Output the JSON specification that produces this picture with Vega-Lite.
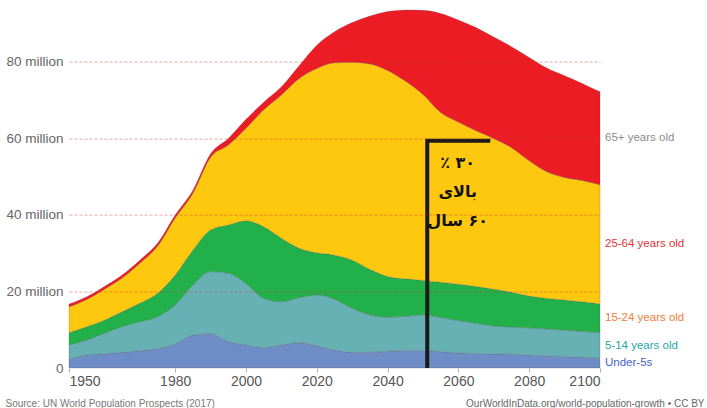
{
  "$schema": "https://vega.github.io/schema/vega-lite/v6.json",
  "width": 531,
  "height": 363.4,
  "autosize": {"type": "none"},
  "padding": {"left": 69, "top": 4.6, "right": 107, "bottom": 40},
  "config": {"font": "Liberation Sans", "view": {"stroke": null}},
  "datasets": {
    "groups": [
      {"age": "Under-5s", "rank": 1},
      {"age": "5-14 years old", "rank": 2},
      {"age": "15-24 years old", "rank": 3},
      {"age": "25-64 years old", "rank": 4},
      {"age": "65+ years old", "rank": 5}
    ],
    "pop": [
      {"year": 1950, "Under-5s": 2.3, "5-14 years old": 3.7, "15-24 years old": 3.2, "25-64 years old": 6.8, "65+ years old": 0.7},
      {"year": 1955, "Under-5s": 3.4, "5-14 years old": 3.9, "15-24 years old": 3.5, "25-64 years old": 7.1, "65+ years old": 0.7},
      {"year": 1960, "Under-5s": 3.7, "5-14 years old": 5.4, "15-24 years old": 3.4, "25-64 years old": 8.1, "65+ years old": 0.7},
      {"year": 1965, "Under-5s": 4.1, "5-14 years old": 6.7, "15-24 years old": 3.9, "25-64 years old": 8.8, "65+ years old": 0.8},
      {"year": 1970, "Under-5s": 4.5, "5-14 years old": 7.6, "15-24 years old": 4.8, "25-64 years old": 10.5, "65+ years old": 0.8},
      {"year": 1975, "Under-5s": 5.0, "5-14 years old": 8.4, "15-24 years old": 6.1, "25-64 years old": 12.3, "65+ years old": 0.8},
      {"year": 1980, "Under-5s": 6.3, "5-14 years old": 10.2, "15-24 years old": 7.8, "25-64 years old": 14.9, "65+ years old": 0.8},
      {"year": 1985, "Under-5s": 8.6, "5-14 years old": 13.1, "15-24 years old": 9.1, "25-64 years old": 14.9, "65+ years old": 0.8},
      {"year": 1990, "Under-5s": 8.9, "5-14 years old": 16.3, "15-24 years old": 10.9, "25-64 years old": 19.0, "65+ years old": 0.9},
      {"year": 1995, "Under-5s": 6.9, "5-14 years old": 17.9, "15-24 years old": 12.6, "25-64 years old": 20.9, "65+ years old": 1.7},
      {"year": 2000, "Under-5s": 6.0, "5-14 years old": 16.1, "15-24 years old": 16.4, "25-64 years old": 24.2, "65+ years old": 2.3},
      {"year": 2005, "Under-5s": 5.3, "5-14 years old": 12.9, "15-24 years old": 18.7, "25-64 years old": 30.6, "65+ years old": 2.0},
      {"year": 2010, "Under-5s": 6.0, "5-14 years old": 11.3, "15-24 years old": 16.6, "25-64 years old": 37.5, "65+ years old": 2.1},
      {"year": 2015, "Under-5s": 6.6, "5-14 years old": 11.8, "15-24 years old": 12.9, "25-64 years old": 44.4, "65+ years old": 3.3},
      {"year": 2020, "Under-5s": 5.8, "5-14 years old": 13.3, "15-24 years old": 11.0, "25-64 years old": 48.2, "65+ years old": 6.1},
      {"year": 2025, "Under-5s": 4.7, "5-14 years old": 13.3, "15-24 years old": 11.5, "25-64 years old": 50.3, "65+ years old": 8.1},
      {"year": 2030, "Under-5s": 4.1, "5-14 years old": 11.5, "15-24 years old": 12.6, "25-64 years old": 51.7, "65+ years old": 10.4},
      {"year": 2035, "Under-5s": 4.1, "5-14 years old": 9.8, "15-24 years old": 11.9, "25-64 years old": 53.7, "65+ years old": 12.5},
      {"year": 2040, "Under-5s": 4.4, "5-14 years old": 8.9, "15-24 years old": 10.6, "25-64 years old": 53.9, "65+ years old": 15.4},
      {"year": 2045, "Under-5s": 4.6, "5-14 years old": 8.9, "15-24 years old": 9.8, "25-64 years old": 51.7, "65+ years old": 18.6},
      {"year": 2050, "Under-5s": 4.6, "5-14 years old": 9.3, "15-24 years old": 9.0, "25-64 years old": 48.6, "65+ years old": 22.0},
      {"year": 2055, "Under-5s": 4.3, "5-14 years old": 8.9, "15-24 years old": 9.2, "25-64 years old": 44.4, "65+ years old": 25.9},
      {"year": 2060, "Under-5s": 3.9, "5-14 years old": 8.5, "15-24 years old": 9.5, "25-64 years old": 42.4, "65+ years old": 26.7},
      {"year": 2065, "Under-5s": 3.8, "5-14 years old": 7.9, "15-24 years old": 9.6, "25-64 years old": 40.7, "65+ years old": 27.0},
      {"year": 2070, "Under-5s": 3.7, "5-14 years old": 7.3, "15-24 years old": 9.6, "25-64 years old": 39.4, "65+ years old": 26.5},
      {"year": 2075, "Under-5s": 3.6, "5-14 years old": 7.1, "15-24 years old": 9.1, "25-64 years old": 37.8, "65+ years old": 26.4},
      {"year": 2080, "Under-5s": 3.4, "5-14 years old": 7.1, "15-24 years old": 8.3, "25-64 years old": 35.4, "65+ years old": 27.0},
      {"year": 2085, "Under-5s": 3.2, "5-14 years old": 7.0, "15-24 years old": 8.0, "25-64 years old": 33.1, "65+ years old": 27.1},
      {"year": 2090, "Under-5s": 3.0, "5-14 years old": 6.9, "15-24 years old": 7.9, "25-64 years old": 32.0, "65+ years old": 26.6},
      {"year": 2095, "Under-5s": 2.8, "5-14 years old": 6.8, "15-24 years old": 7.7, "25-64 years old": 31.7, "65+ years old": 25.4},
      {"year": 2100, "Under-5s": 2.5, "5-14 years old": 6.7, "15-24 years old": 7.5, "25-64 years old": 31.2, "65+ years old": 24.3}
    ]
  },
  "encoding": {
    "x": {
      "field": "year", "type": "quantitative",
      "scale": {"domain": [1950, 2100], "nice": false, "zero": false},
      "axis": {
        "values": [1950, 1980, 2000, 2020, 2040, 2060, 2080, 2100],
        "format": "d", "grid": false, "domain": false,
        "ticks": true, "tickSize": 4, "tickColor": "#b0b0b0",
        "labelFontSize": 14, "labelColor": "#555", "labelPadding": 2,
        "title": "OurWorldInData.org/world-population-growth • CC BY",
        "titleX": 635, "titleY": 35, "titleAlign": "right", "titleAnchor": null,
        "titleBaseline": "middle", "titleFontSize": 10, "titleFontWeight": "normal", "titleColor": "#666"
      }
    },
    "y": {
      "field": "value", "type": "quantitative",
      "scale": {"domain": [0, 95], "nice": false},
      "axis": {
        "values": [0, 20, 40, 60, 80],
        "labelExpr": "datum.value == 0 ? '0' : datum.value + ' million'",
        "domain": false, "ticks": false, "zindex": 1,
        "grid": true, "gridColor": "#c84040", "gridDash": [3, 2], "gridWidth": 1,
        "gridOpacity": {"condition": {"test": "datum.value === 0", "value": 0}, "value": 0.45},
        "labelFontSize": 13.5, "labelColor": "#666", "labelPadding": 6,
        "title": "Source: UN World Population Prospects (2017)",
        "titleAngle": 0, "titleX": -64, "titleY": 398.4, "titleAlign": "left", "titleAnchor": null,
        "titleBaseline": "middle", "titleFontSize": 10, "titleFontWeight": "normal", "titleColor": "#777"
      }
    }
  },
  "layer": [
    {
      "data": {"name": "pop"},
      "transform": [
        {"fold": ["Under-5s", "5-14 years old", "15-24 years old", "25-64 years old", "65+ years old"], "as": ["key", "value"]},
        {"lookup": "key", "from": {"data": {"name": "groups"}, "key": "age", "fields": ["rank"]}}
      ],
      "mark": {"type": "area", "interpolate": "monotone", "stroke": "#555", "strokeWidth": 0.5, "strokeOpacity": 0.5},
      "encoding": {
        "y": {"field": "value", "type": "quantitative", "stack": "zero"},
        "color": {
          "field": "key", "type": "nominal", "legend": null,
          "scale": {
            "domain": ["Under-5s", "5-14 years old", "15-24 years old", "25-64 years old", "65+ years old"],
            "range": ["#6E8CC5", "#67B1B5", "#22B04B", "#FEC80F", "#EC1C24"]
          }
        },
        "order": {"field": "rank", "type": "quantitative"}
      }
    },
    {
      "data": {"values": [
        {"year": 2051.2, "value": 0, "i": 1},
        {"year": 2051.2, "value": 59.4, "i": 2},
        {"year": 2069, "value": 59.4, "i": 3}
      ]},
      "mark": {"type": "line", "color": "#1a1a1a", "strokeWidth": 4, "strokeCap": "butt", "strokeJoin": "miter"},
      "encoding": {"order": {"field": "i", "type": "quantitative"}}
    },
    {
      "data": {"values": [{"year": 2059.8, "value": 53.7, "note": "٪ ۳۰\nبالای\nسال\u200e ۶۰"}]},
      "mark": {"type": "text", "font": "DejaVu Sans", "fontWeight": "bold", "fontSize": 16, "align": "center", "baseline": "middle", "lineBreak": "\n", "lineHeight": 29, "color": "#111"},
      "encoding": {"text": {"field": "note"}}
    },
    {
      "data": {"name": "pop"},
      "transform": [
        {"filter": "datum.year == 2100"},
        {"fold": ["Under-5s", "5-14 years old", "15-24 years old", "25-64 years old", "65+ years old"], "as": ["key", "value"]},
        {"lookup": "key", "from": {"data": {"name": "groups"}, "key": "age", "fields": ["rank"]}},
        {"stack": "value", "groupby": ["year"], "sort": [{"field": "rank", "order": "ascending"}], "as": ["v0", "v1"]},
        {"calculate": "(datum.v0 + datum.v1) / 2", "as": "value"}
      ],
      "mark": {"type": "text", "align": "left", "baseline": "middle", "dx": 5, "fontSize": 11.5},
      "encoding": {
        "y": {"field": "value", "type": "quantitative", "stack": null},
        "text": {"field": "key"},
        "color": {
          "field": "key", "type": "nominal", "legend": null,
          "scale": {
            "domain": ["Under-5s", "5-14 years old", "15-24 years old", "25-64 years old", "65+ years old"],
            "range": ["#3F64C6", "#26A5A8", "#F07D3B", "#E5323A", "#8C8C8C"]
          }
        }
      }
    }
  ],
  "resolve": {"scale": {"color": "independent"}}
}
